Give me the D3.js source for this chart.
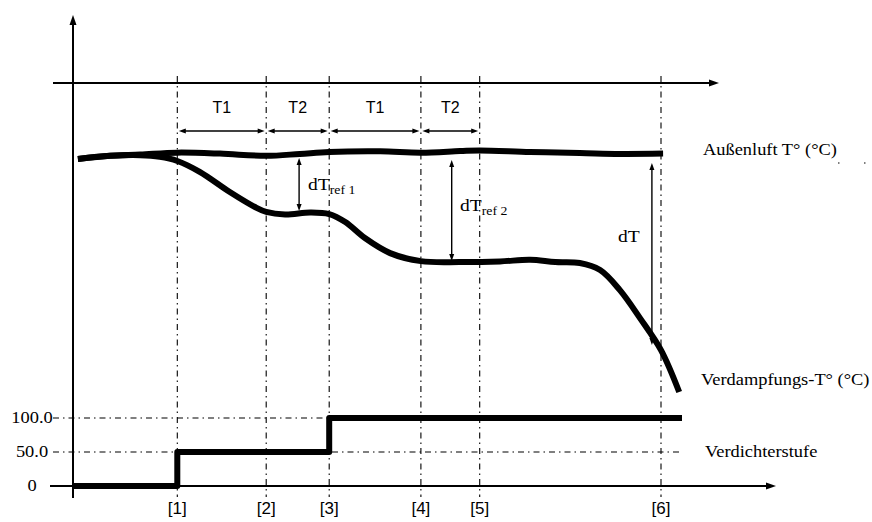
<!DOCTYPE html>
<html>
<head>
<meta charset="utf-8">
<script src="https://cdn.jsdelivr.net/npm/d3@7/dist/d3.min.js"></script>
<style>
  html, body { margin: 0; padding: 0; background: #fff; }
  svg { display: block; }
</style>
</head>
<body>
<div id="chart"></div>
<script>
// ---- Data -------------------------------------------------------------
// Event markers on the time axis
const markerLabels = ["[1]", "[2]", "[3]", "[4]", "[5]", "[6]"];
const markerTimes  = [14.9, 27.6, 36.6, 49.7, 58.1, 84.0];

// Phase labels between consecutive markers
const phaseLabels = ["T1", "T2", "T1", "T2"];

// Outdoor air temperature (relative units)
const outdoorTimes = [0.7, 5.3, 9.6, 14.9, 21.0, 27.6, 32.4, 36.6, 43.9, 49.7, 55.3, 58.1, 65.3, 72.4, 78.1, 84.3];
const outdoorTemp  = [75.3, 76.3, 76.7, 77.3, 77.0, 76.3, 76.9, 77.5, 77.7, 77.3, 77.8, 78.0, 77.5, 77.2, 76.9, 77.0];

// Evaporating temperature (relative units)
const evapTimes = [0.7, 5.3, 9.6, 12.4, 14.9, 18.1, 22.4, 26.0, 27.6, 30.3, 33.9, 36.6, 38.9, 41.7, 45.3, 49.7, 55.3, 61.0, 65.3, 68.9, 72.4, 75.3, 78.1, 81.0, 84.0, 86.6];
const evapTemp  = [75.3, 76.3, 76.5, 76.0, 74.7, 71.3, 65.0, 60.3, 58.8, 58.0, 58.6, 58.1, 55.6, 50.6, 45.9, 43.4, 43.1, 43.3, 43.8, 43.1, 42.8, 40.6, 34.4, 25.6, 15.6, 2.5];

// Compressor stage (%)
const stageTimes  = [0, 14.9, 36.6, 87.0];
const stageValues = [0, 50, 100, 100];
const stageTicks  = [0, 50, 100];
const stageTickLabels = ["0", "50.0", "100.0"];

// Temperature-difference arrows: time, upper and lower temperature
const diffTimes  = [32.3, 54.1, 82.7];
const diffUpper  = [75.6, 75.0, 74.1];
const diffLower  = [59.1, 43.4, 17.2];
const diffMain   = ["dT", "dT", "dT"];
const diffSub    = ["ref 1", "ref 2", ""];

// Series labels on the right
const seriesLabels = ["Außenluft T° (°C)", "Verdampfungs-T° (°C)", "Verdichterstufe"];

// ---- Setup ------------------------------------------------------------
const W = 872, H = 522;
const SERIF = "'Liberation Serif', 'Times New Roman', serif";
const SANS = "'Liberation Sans', Arial, sans-serif";
const SX = 1.15;       // horizontal stretch of serif labels
const DASHDOT = "6,4,1.5,4";

const svg = d3.select("#chart").append("svg")
  .attr("width", W).attr("height", H)
  .attr("viewBox", `0 0 ${W} ${H}`);
svg.append("rect").attr("width", W).attr("height", H).attr("fill", "#fff");

const x = d3.scaleLinear().domain([0, 100]).range([73, 773]);
const yT = d3.scaleLinear().domain([0, 100]).range([400, 80]);
const yS = d3.scaleLinear().domain([0, 100]).range([486, 418]);

const axisY0 = 83;          // upper time axis
const axisYBottom = yS(0);  // lower time axis

function arrowHead(g, px, py, angle, len, wid) {
  // filled triangle with its tip at (px, py), pointing in direction `angle`
  const a = angle * Math.PI / 180;
  const bx = px - len * Math.cos(a), by = py - len * Math.sin(a);
  const nx = -Math.sin(a) * wid / 2, ny = Math.cos(a) * wid / 2;
  g.append("path")
    .attr("d", `M${px},${py}L${bx + nx},${by + ny}L${bx - nx},${by - ny}Z`)
    .attr("fill", "#000");
}

function serifText(g, tx, ty, str, size, anchor) {
  return g.append("text")
    .attr("transform", `translate(${tx},${ty}) scale(${SX},1)`)
    .attr("text-anchor", anchor || "start")
    .attr("font-family", SERIF)
    .attr("font-size", size)
    .attr("fill", "#000")
    .text(str);
}

// ---- Grid / marker lines ------------------------------------------------
const grid = svg.append("g");
grid.selectAll("line.marker").data(markerTimes).join("line")
  .attr("class", "marker")
  .attr("x1", d => x(d)).attr("x2", d => x(d))
  .attr("y1", 76).attr("y2", 497)
  .attr("stroke", "#000").attr("stroke-width", 1.1)
  .attr("stroke-dasharray", DASHDOT);

grid.selectAll("line.stage").data(stageTicks.filter(d => d > 0)).join("line")
  .attr("class", "stage")
  .attr("x1", 53).attr("x2", x(stageTimes[stageTimes.length - 1]))
  .attr("y1", d => yS(d)).attr("y2", d => yS(d))
  .attr("stroke", "#000").attr("stroke-width", 1.1)
  .attr("stroke-dasharray", DASHDOT);

// faint continuation beside the outdoor label
grid.append("line")
  .attr("x1", 838).attr("x2", 866).attr("y1", 163).attr("y2", 163)
  .attr("stroke", "#000").attr("stroke-width", 1.2)
  .attr("stroke-dasharray", "1.5,24.5");

// ---- Axes ---------------------------------------------------------------
const axes = svg.append("g");
// vertical axis
axes.append("line").attr("x1", x(0)).attr("x2", x(0)).attr("y1", 498).attr("y2", 22)
  .attr("stroke", "#000").attr("stroke-width", 2);
arrowHead(axes, x(0), 15, -90, 10, 7);
// upper time axis
axes.append("line").attr("x1", 53).attr("x2", 712).attr("y1", axisY0).attr("y2", axisY0)
  .attr("stroke", "#000").attr("stroke-width", 2);
arrowHead(axes, 719, axisY0, 0, 10, 7);
// lower time axis
axes.append("line").attr("x1", 50).attr("x2", 768).attr("y1", axisYBottom).attr("y2", axisYBottom)
  .attr("stroke", "#000").attr("stroke-width", 2);
arrowHead(axes, 776, axisYBottom, 0, 10, 7);

// stage tick labels
stageTicks.forEach((v, i) => {
  serifText(axes, 32, yS(v) + 5, stageTickLabels[i], 16, "middle");
});

// marker labels
axes.selectAll("text.mk").data(markerTimes).join("text")
  .attr("class", "mk")
  .attr("x", d => x(d)).attr("y", 514)
  .attr("text-anchor", "middle")
  .attr("font-family", SANS).attr("font-size", 17)
  .text((d, i) => markerLabels[i]);

// ---- Phase arrows (T1 / T2) ---------------------------------------------
const phases = svg.append("g");
phaseLabels.forEach((lab, i) => {
  const xa = x(markerTimes[i]) + 1.5, xb = x(markerTimes[i + 1]) - 1.5;
  const yy = 131;
  phases.append("line").attr("x1", xa + 5).attr("x2", xb - 5).attr("y1", yy).attr("y2", yy)
    .attr("stroke", "#000").attr("stroke-width", 1.4);
  arrowHead(phases, xa, yy, 180, 7, 5);
  arrowHead(phases, xb, yy, 0, 7, 5);
  phases.append("text")
    .attr("x", (xa + xb) / 2).attr("y", 113)
    .attr("text-anchor", "middle")
    .attr("font-family", SANS).attr("font-size", 16)
    .text(lab);
});

// ---- Curves -------------------------------------------------------------
const line = d3.line().curve(d3.curveCatmullRom.alpha(0.5));
const curves = svg.append("g").attr("fill", "none").attr("stroke", "#000")
  .attr("stroke-width", 6).attr("stroke-linecap", "butt").attr("stroke-linejoin", "round");

curves.append("path")
  .attr("d", line(evapTimes.map((t, i) => [x(t), yT(evapTemp[i])])));
curves.append("path")
  .attr("d", line(outdoorTimes.map((t, i) => [x(t), yT(outdoorTemp[i])])));

// compressor stage step line
curves.append("path")
  .attr("d", d3.line().curve(d3.curveStepAfter)(stageTimes.map((t, i) => [x(t), yS(stageValues[i])])));

// ---- Temperature-difference arrows ----------------------------------------
const diffs = svg.append("g");
diffTimes.forEach((t, i) => {
  const xx = x(t), y1 = yT(diffUpper[i]), y2 = yT(diffLower[i]);
  diffs.append("line").attr("x1", xx).attr("x2", xx).attr("y1", y1 + 5).attr("y2", y2 - 5)
    .attr("stroke", "#000").attr("stroke-width", 1.4);
  arrowHead(diffs, xx, y1, -90, 7, 5);
  arrowHead(diffs, xx, y2, 90, 7, 5);
});

// labels of the difference arrows
const dLabelPos = [[308, 190], [460, 211], [618, 242]];
diffTimes.forEach((t, i) => {
  const tx = serifText(diffs, dLabelPos[i][0], dLabelPos[i][1], diffMain[i], 17, "start");
  if (diffSub[i]) {
    tx.append("tspan").attr("font-size", 12).attr("dy", 4).text(diffSub[i]);
  }
});

// ---- Series labels --------------------------------------------------------
const labelPos = [[703, 155], [701, 385], [705, 457]];
seriesLabels.forEach((s, i) => serifText(svg, labelPos[i][0], labelPos[i][1], s, 16, "start"));
</script>
</body>
</html>
